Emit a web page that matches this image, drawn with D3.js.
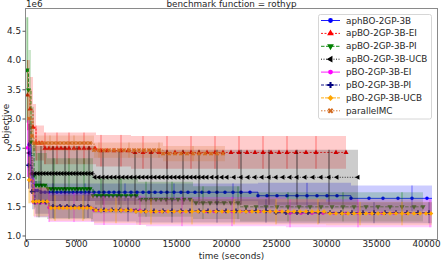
<!DOCTYPE html>
<html><head><meta charset="utf-8">
<script src="https://cdn.jsdelivr.net/npm/d3@7"></script>
<style>body{margin:0;background:#fff;} svg{display:block;font-family:"DejaVu Sans",sans-serif;}</style>
</head><body><svg id="c" width="441" height="260"></svg>
<script>
// ---- data (objective values in units of 1e6) ----
const chartTitle = "benchmark function = rothyp";
const xTicks = [0, 5000, 10000, 15000, 20000, 25000, 30000, 35000, 40000];
const yTicks = [1.0, 1.5, 2.0, 2.5, 3.0, 3.5, 4.0, 4.5];
const seriesNames = ["aphBO-2GP-3B","apBO-2GP-3B-EI","apBO-2GP-3B-PI","apBO-2GP-3B-UCB","pBO-2GP-3B-EI","pBO-2GP-3B-PI","pBO-2GP-3B-UCB","parallelMC"];

// step change points: [time, mean, std]
const aphSteps = [[300,2.55,0.45],[500,2.05,0.3],[700,1.77,0.16],[1500,1.74,0.15],[23200,1.68,0.22],[32500,1.635,0.22],[40600,1.635,0.22]];
const aphTimes = [300,500,700,900,1150,1500,1900,2300,2700,3100,3500,3900,4300,4700,5100,5500,5900,6300,6800,7300,7800,8300,8800,9300,9900,10500,11100,11700,12300,12900,13500,14100,14800,15500,16200,16900,17600,18300,19100,19900,20700,21500,22400,23200,24100,25100,26100,27100,28100,29100,30100,31100,32500,34300,35700,37200,38600,40100];

const apEISteps = [[150,3.4,0.6],[400,3.16,0.55],[700,2.85,0.4],[1000,2.58,0.3],[1800,2.49,0.27],[7000,2.45,0.27],[10500,2.42,0.28],[32000,2.42,0.28]];
const apEITimes = [150,400,700,1000,1300,1600,1900,2300,2700,3100,3500,3900,4300,4800,5300,5800,6300,6900,7500,8100,8800,9500,10200,10900,11700,12500,13300,14100,14900,15700,16500,17300,18100,18900,19700,20500,21300,22100,22900,23700,24500,25300,26100,27000,28000,29000,31000,32000];

const apPISteps = [[100,3.83,0.9],[250,3.49,0.68],[500,2.6,0.6],[800,2.03,0.55],[1000,1.86,0.55],[2100,1.8,0.52],[6700,1.68,0.3],[11200,1.62,0.3],[16700,1.56,0.28],[21400,1.49,0.25],[39700,1.49,0.25]];
const apPITimes = [100,250,500,800,1000,1300,1600,1900,2200,2500,2800,3100,3400,3700,4000,4300,4600,4900,5200,5500,5800,6100,6400,6700,7100,7500,7900,8300,8700,9100,9500,10000,10500,11000,11500,12000,12500,13000,13500,14000,14600,15200,15800,16400,17000,17700,18400,19100,19800,20500,21200,22000,23000,24000,25100,26200,27300,28400,29500,30600,31700,32800,34000,35200,36400,37600,38800,39700];

const apUCBSteps = [[300,2.41,0.5],[600,2.06,0.47],[6900,1.995,0.47],[33200,1.995,0.47]];
const apUCBTimes = [300,600,900,1200,1500,1800,2100,2400,2700,3000,3300,3600,3900,4200,4500,4800,5100,5400,5700,6000,6300,6600,6900,7300,7700,8100,8500,8900,9300,9700,10100,10500,10900,11300,11700,12100,12500,12900,13300,13700,14100,14500,14900,15300,15700,16100,16500,16900,17300,17700,18100,18600,19100,19600,20100,20800,21500,22200,22900,23600,24300,25000,25700,26400,27100,27900,28700,29500,30300,31100,33200];

const pEISteps = [[150,2.5,0.5],[400,1.95,0.4],[800,1.56,0.25],[2300,1.48,0.25],[6800,1.43,0.25],[12000,1.41,0.25],[26000,1.38,0.24],[40600,1.38,0.24]];
const pEITimes = [150,400,800,1100,1500,1900,2300,2700,3100,3500,3900,4300,4800,5300,5800,6300,6800,7300,7800,8400,9000,9600,10200,10800,11400,12000,12700,13400,14100,14800,15600,16400,17200,18000,18800,19700,20600,21500,22400,23400,24400,25400,26400,27500,28600,29700,30800,32000,33200,34400,35600,36800,38000,39200,40400];

const pPISteps = [[250,2.2,0.4],[600,1.75,0.3],[900,1.57,0.2],[2300,1.5,0.2],[6500,1.44,0.2],[11000,1.42,0.2],[25000,1.39,0.18],[40600,1.39,0.18]];
const pPITimes = [250,600,900,1400,2000,2700,3400,4100,4800,5500,6200,7000,7800,8600,9400,10200,11000,11900,12800,13700,14600,15500,16400,17300,18200,19100,20000,21000,22000,23000,24000,25000,26000,27100,28200,29300,30400,31500,32600,33700,34800,35900,37000,38100,39200,40300];

const pUCBSteps = [[300,1.95,0.4],[700,1.58,0.25],[2300,1.47,0.22],[6800,1.43,0.22],[11000,1.41,0.22],[30000,1.375,0.2],[40600,1.375,0.2]];
const pUCBTimes = [300,700,1000,1300,1700,2100,2500,2900,3300,3700,4100,4500,4900,5300,5700,6100,6500,7000,7500,8000,8500,9000,9500,10000,10500,11000,11500,12000,12500,13000,13600,14200,14800,15400,16000,16600,17200,17800,18400,19000,19600,20200,20800,21400,22000,22600,23200,23800,24400,25000,25600,26200,26800,27400,28000,28600,29200,29800,30400,31000,31600,32200,32800,33400,34000,34600,35200,35800,36400,37000,37600,38200,38800,39400,40000,40500];

const mcSteps = [[300,3.0,0.5],[600,2.7,0.3],[800,2.58,0.13],[6800,2.46,0.13],[13700,2.4,0.13],[19900,2.4,0.13]];
const mcTimes = [300,600,800,1200,1600,2000,2400,2800,3200,3600,4000,4400,4800,5200,5600,6000,6400,6800,7300,7800,8300,8800,9300,9800,10300,10800,11300,11800,12300,12800,13300,13700,14300,14900,15500,16100,16700,17300,17900,18500,19100,19700];

// ---- styles ----
const series = [
  {name: seriesNames[0], steps: aphSteps, times: aphTimes, color: "#0000ff", dash: null, marker: "circle", errEvery: 8, errOp: 0.55},
  {name: seriesNames[1], steps: apEISteps, times: apEITimes, color: "#ff0000", dash: "2,1.5", marker: "tri-up", errEvery: 3, errOp: 0.5},
  {name: seriesNames[2], steps: apPISteps, times: apPITimes, color: "#008000", dash: "3.5,1.5", marker: "tri-down", errEvery: 5, errOp: 0.55},
  {name: seriesNames[3], steps: apUCBSteps, times: apUCBTimes, color: "#000000", dash: "1,1.5", marker: "tri-left", errEvery: 4, errOp: 0.7},
  {name: seriesNames[4], steps: pEISteps, times: pEITimes, color: "#ff00ff", dash: null, marker: "circle", errEvery: 6, errOp: 0.55},
  {name: seriesNames[5], steps: pPISteps, times: pPITimes, color: "#000080", dash: "3,1.5", marker: "plus", errEvery: 5, errOp: 0.55},
  {name: seriesNames[6], steps: pUCBSteps, times: pUCBTimes, color: "#ffa500", dash: "3,1", marker: "diamond", errEvery: 7, errOp: 0.6},
  {name: seriesNames[7], steps: mcSteps, times: mcTimes, color: "#d2691e", dash: "1.5,1.5", marker: "x", errEvery: 6, errOp: 0.5}
];

const L = 26, R = 437, T = 9, B = 239;
const x = d3.scaleLinear().domain([0, 41100]).range([L, R]);
const y = d3.scaleLinear().domain([0.94, 4.872]).range([B, T]);
const svg = d3.select("#c");
svg.append("rect").attr("width", 441).attr("height", 260).attr("fill", "#fff");
svg.append("defs").append("clipPath").attr("id", "clip")
  .append("rect").attr("x", L).attr("y", T).attr("width", R - L).attr("height", B - T);
const plot = svg.append("g").attr("clip-path", "url(#clip)");

function stepAt(steps, t) { let r = steps[0]; for (const s of steps) if (s[0] <= t) r = s; return r; }
function symbolFor(m, size) {
  const map = {"circle": [d3.symbolCircle, 0, 1], "tri-up": [d3.symbolTriangle, 0, 1.1], "tri-down": [d3.symbolTriangle, 180, 1.1],
    "tri-left": [d3.symbolTriangle, -90, 1.1], "plus": [d3.symbolCross, 0, 1.2], "diamond": [d3.symbolSquare, 45, 1.0], "x": [d3.symbolCross, 45, 1.1]};
  const [type, rot, k] = map[m];
  return {path: d3.symbol().type(type).size(size * k)(), rot};
}

series.forEach(s => {
  const tEnd = s.steps[s.steps.length - 1][0];
  const ts = Array.from(new Set([...s.steps.map(d => d[0]), ...s.times])).filter(t => t <= tEnd).sort((a, b) => a - b);
  const pts = ts.map(t => { const st = stepAt(s.steps, t); return {t, m: st[1], sd: st[2]}; });
  plot.append("path").datum(pts)
    .attr("d", d3.area().curve(d3.curveStepAfter).x(d => x(d.t)).y0(d => y(d.m - d.sd)).y1(d => y(d.m + d.sd)))
    .attr("fill", s.color).attr("fill-opacity", 0.2);
  const mpts = s.times.filter(t => t <= tEnd).map(t => { const st = stepAt(s.steps, t); return {t, m: st[1], sd: st[2]}; });
  plot.append("g").selectAll("line").data(mpts.filter((d, i) => i % s.errEvery === 0)).join("line")
    .attr("x1", d => x(d.t)).attr("x2", d => x(d.t)).attr("y1", d => y(d.m - d.sd)).attr("y2", d => y(d.m + d.sd))
    .attr("stroke", s.color).attr("stroke-opacity", s.errOp).attr("stroke-width", 0.9);
  plot.append("path").datum(pts)
    .attr("d", d3.line().curve(d3.curveStepAfter).x(d => x(d.t)).y(d => y(d.m)))
    .attr("fill", "none").attr("stroke", s.color).attr("stroke-width", 0.8)
    .attr("stroke-dasharray", s.dash);
  const sym = symbolFor(s.marker, 10);
  plot.append("g").selectAll("path").data(mpts).join("path")
    .attr("d", sym.path).attr("transform", d => `translate(${x(d.t)},${y(d.m)}) rotate(${sym.rot})`)
    .attr("fill", s.color);
});

// frame
svg.append("rect").attr("x", L - 0.5).attr("y", T - 0.5).attr("width", R - L + 1).attr("height", B - T + 1)
  .attr("fill", "none").attr("stroke", "#8a8a8a").attr("stroke-width", 1);

const fs = "8.8px";
const ax = svg.append("g").attr("transform", `translate(0,${B + 0.5})`)
  .call(d3.axisBottom(x).tickValues(xTicks).tickFormat(d3.format("d")).tickSize(2.5).tickPadding(0));
const ay = svg.append("g").attr("transform", `translate(${L - 0.5},0)`)
  .call(d3.axisLeft(y).tickValues(yTicks).tickFormat(d3.format(".1f")).tickSize(3).tickPadding(1.5));
[ax, ay].forEach(g => {
  g.select(".domain").remove();
  g.selectAll("line").attr("stroke", "#555");
  g.selectAll("text").attr("font-size", fs).attr("fill", "#262626").attr("font-family", "DejaVu Sans");
});
ax.selectAll("text").attr("y", 1.5);

svg.append("text").attr("x", (L + R) / 2).attr("y", 7).attr("text-anchor", "middle").attr("font-size", fs).attr("fill", "#262626").text(chartTitle);
svg.append("text").attr("x", L).attr("y", 7).attr("font-size", fs).attr("fill", "#262626").text("1e6");
svg.append("text").attr("x", (L + R) / 2).attr("y", 258.5).attr("text-anchor", "middle").attr("font-size", fs).attr("fill", "#262626").text("time (seconds)");
svg.append("text").attr("transform", `translate(8.5,${(T + B) / 2}) rotate(-90)`).attr("text-anchor", "middle").attr("font-size", fs).attr("fill", "#262626").text("objective");

// legend
const lg = svg.append("g");
lg.append("rect").attr("x", 318.5).attr("y", 14.5).attr("width", 113).attr("height", 104.5).attr("rx", 2)
  .attr("fill", "#fff").attr("fill-opacity", 0.8).attr("stroke", "#cccccc").attr("stroke-width", 0.8);
series.forEach((s, i) => {
  const yy = 20.5 + i * 12.9;
  lg.append("line").attr("x1", 321).attr("x2", 340).attr("y1", yy).attr("y2", yy)
    .attr("stroke", s.color).attr("stroke-width", 0.9).attr("stroke-dasharray", s.dash);
  const sym = symbolFor(s.marker, 18);
  lg.append("path").attr("d", sym.path).attr("transform", `translate(330.5,${yy}) rotate(${sym.rot})`).attr("fill", s.color);
  lg.append("text").attr("x", 346).attr("y", yy).attr("dy", "0.35em").attr("font-size", fs).attr("fill", "#262626").text(s.name);
});
</script></body></html>
